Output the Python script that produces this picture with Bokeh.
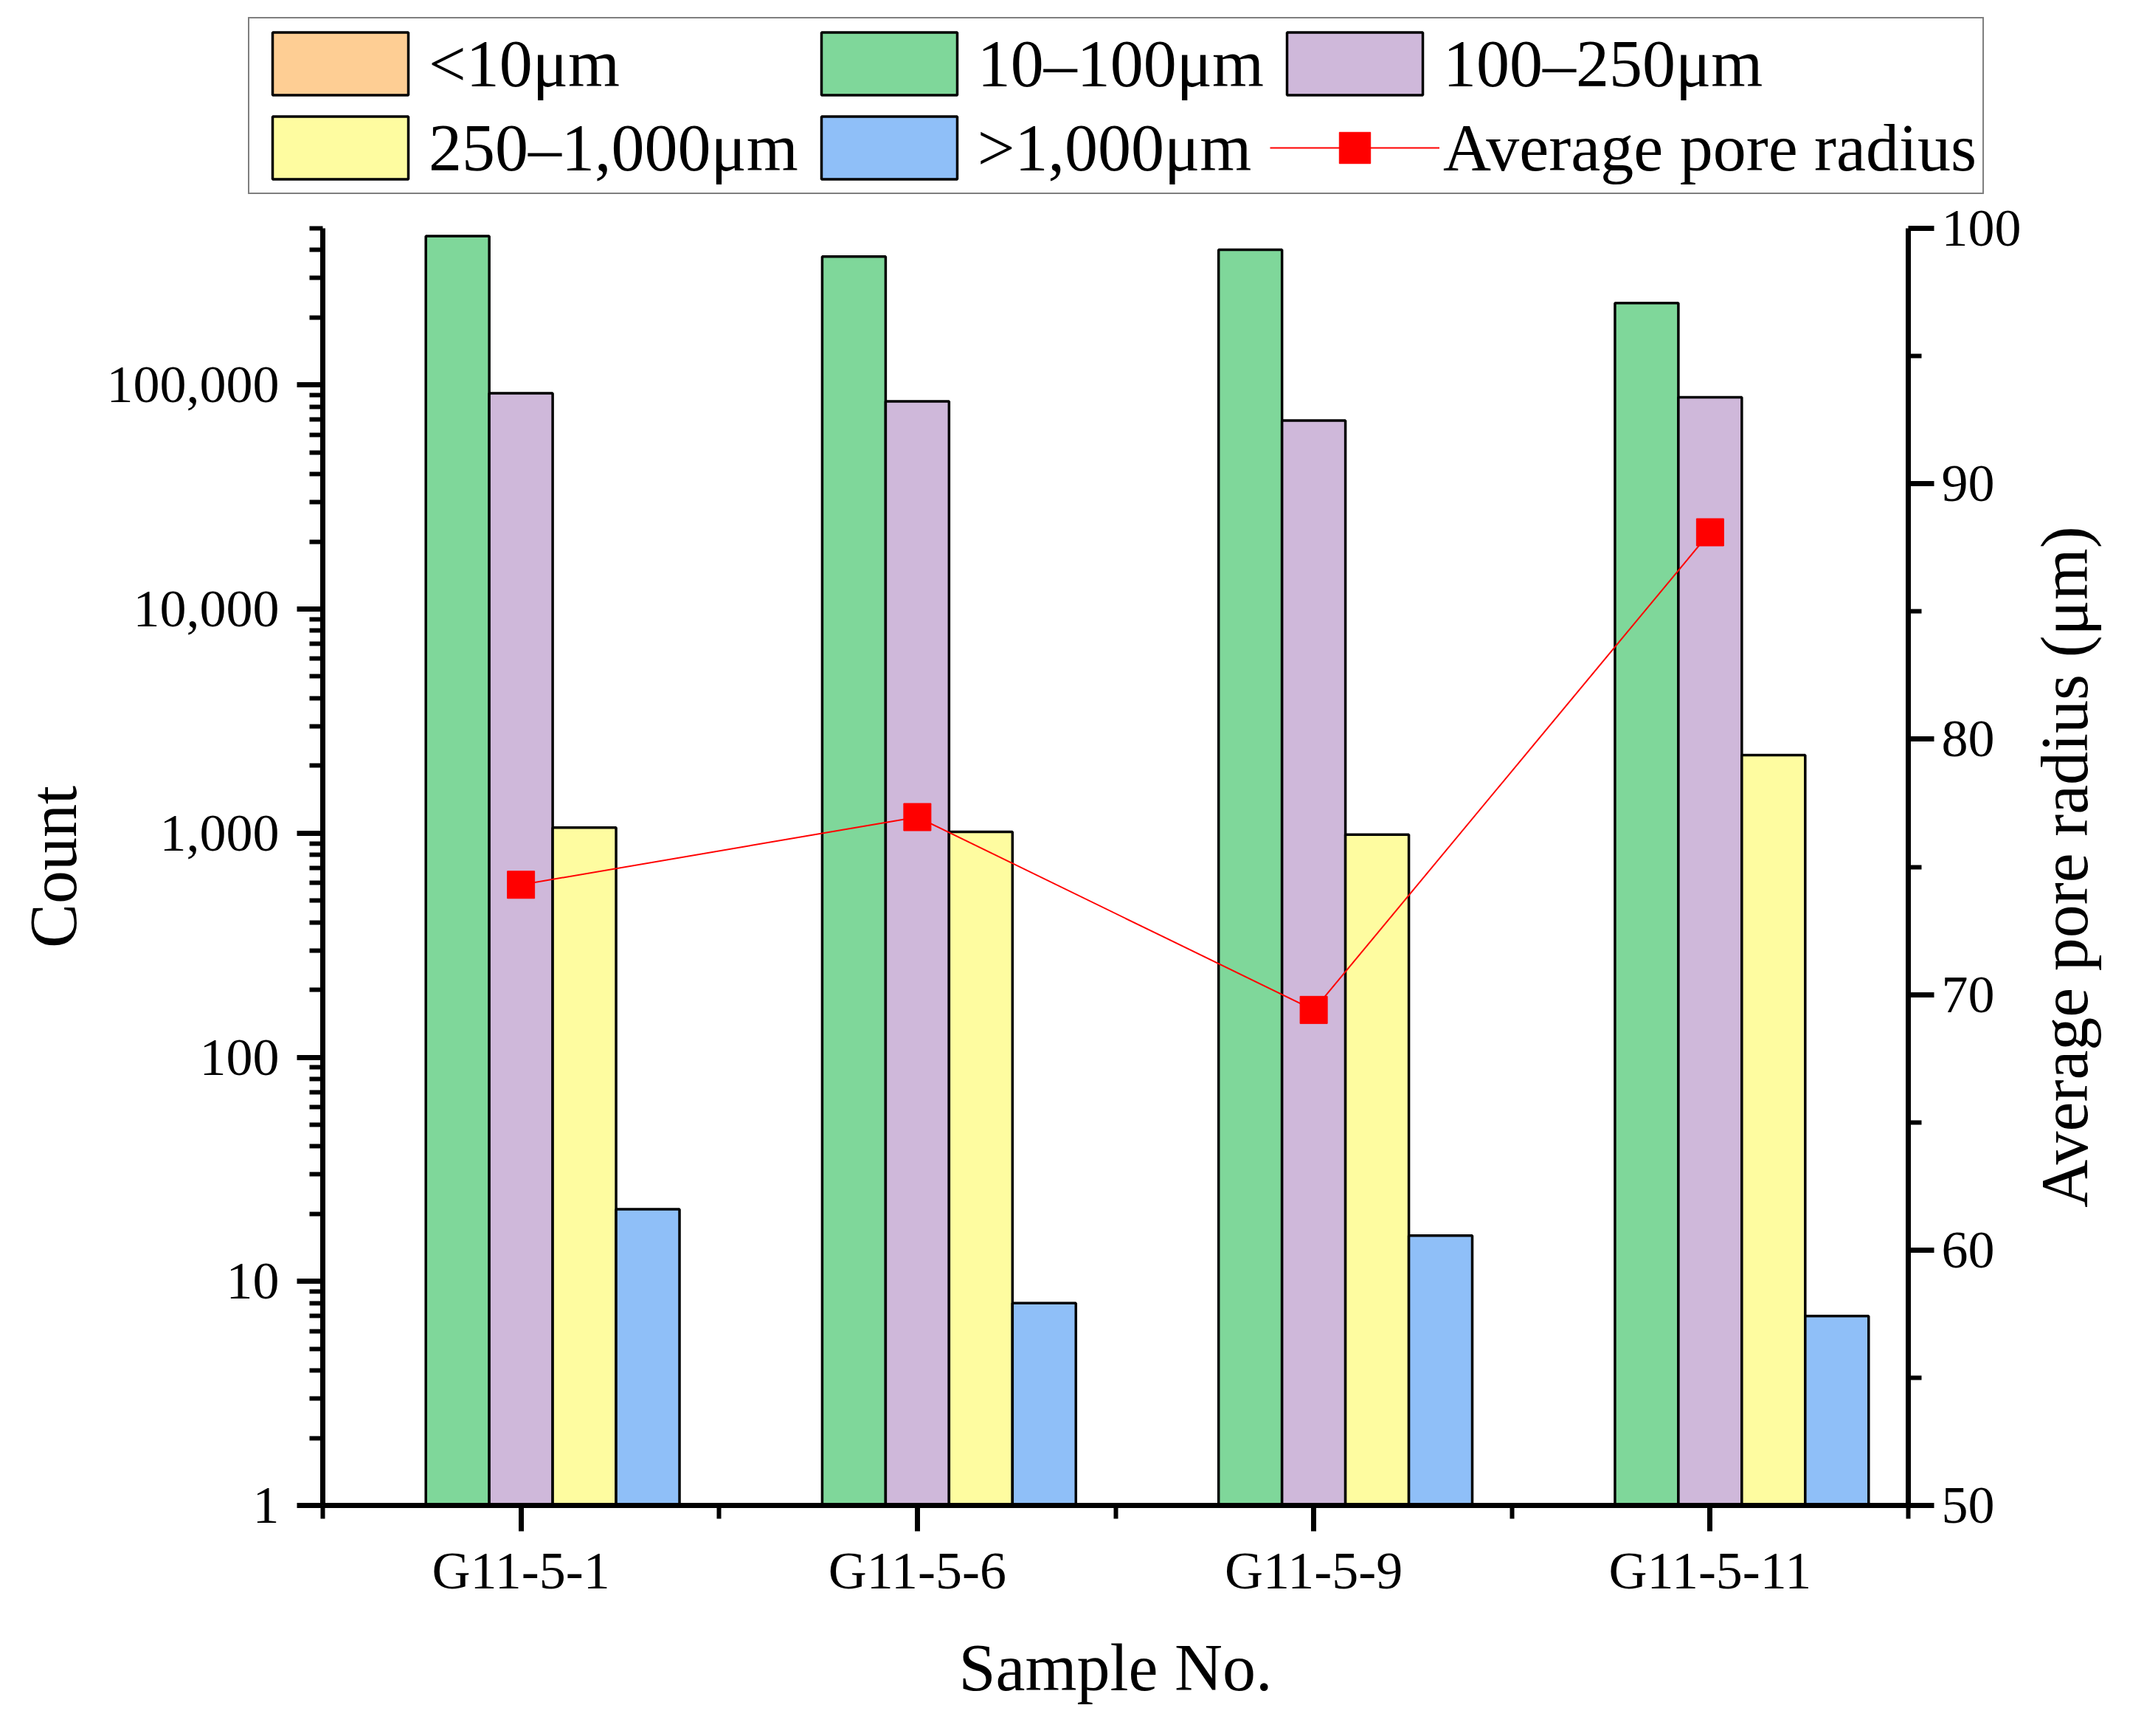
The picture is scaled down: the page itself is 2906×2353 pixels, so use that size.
import math

from bokeh.embed import file_html
from bokeh.layouts import column, row
from bokeh.models import (ColumnDataSource, FixedTicker, Label, Legend, LegendItem, LinearAxis,
                          LinearScale, NumeralTickFormatter, Range1d)
from bokeh.plotting import figure
from bokeh.resources import INLINE
from bokeh.transform import dodge

# data
samples = ["G11-5-1", "G11-5-6", "G11-5-9", "G11-5-11"]
sample_pos = [1, 2, 3, 4]
below_10 = [0, 0, 0, 0]
r10_100 = [462000, 374000, 401000, 232000]
r100_250 = [91900, 84500, 69400, 88100]
r250_1000 = [1058, 1014, 986, 2228]
above_1000 = [21, 8, 16, 7]
avg_radius = [74.3, 76.95, 69.4, 88.1]

series_names = ["<10μm", "10–100μm", "100–250μm", "250–1,000μm", ">1,000μm"]
series_cols = ["lt10", "r10_100", "r100_250", "r250_1000", "gt1000"]
colors = ["#FECE94", "#7FD79A", "#CFB8DA", "#FEFCA0", "#8FBFF8"]

FONT = "Liberation Serif"
LEGEND_H = 264
MAIN_W = 2750
TOTAL_W = 2890
TOTAL_H = 2337
FRAME_TOP = 309


def bare_figure(**kw):
    f = figure(output_backend="svg", toolbar_location=None,
               x_axis_location=None, y_axis_location=None, **kw)
    f.outline_line_color = None
    f.grid.visible = False
    return f


src = ColumnDataSource(dict(
    x=sample_pos, lt10=below_10, r10_100=r10_100, r100_250=r100_250,
    r250_1000=r250_1000, gt1000=above_1000, avg=avg_radius,
))

p = figure(
    width=MAIN_W, height=TOTAL_H - LEGEND_H,
    output_backend="svg", toolbar_location=None,
    x_range=Range1d(0.5, 4.5), y_range=Range1d(1, 500000), y_axis_type="log",
    min_border_left=437, min_border_right=MAIN_W - 2586,
    min_border_top=FRAME_TOP - LEGEND_H, min_border_bottom=297,
)
p.outline_line_color = None
p.xgrid.visible = False
p.ygrid.visible = False
p.extra_y_ranges = {"radius": Range1d(50, 100)}
p.extra_y_scales = {"radius": LinearScale()}

bar_width = 0.16
offsets = [-0.32, -0.16, 0.0, 0.16, 0.32]
for col, off, c in zip(series_cols, offsets, colors):
    p.vbar(x=dodge("x", off, range=p.x_range), top=col, bottom=1, width=bar_width,
           source=src, fill_color=c, line_color="black", line_width=3.5)

p.line(x="x", y="avg", source=src, y_range_name="radius", line_color="#FF0000", line_width=2)
p.scatter(x="x", y="avg", source=src, y_range_name="radius",
          marker="square", size=37, fill_color="#FF0000", line_color="#FF0000")


def style_axis(ax):
    ax.axis_line_width = 7
    ax.major_tick_line_width = 7
    ax.minor_tick_line_width = 6
    ax.axis_line_color = "black"
    ax.major_tick_line_color = "black"
    ax.minor_tick_line_color = "black"
    ax.major_label_text_font = FONT
    ax.major_label_text_font_size = "72px"
    ax.major_label_text_color = "black"
    ax.axis_label_text_font = FONT
    ax.axis_label_text_font_size = "90px"
    ax.axis_label_text_font_style = "normal"
    ax.axis_label_text_color = "black"


yax = p.yaxis[0]
style_axis(yax)
log_minor = [m * 10 ** d for d in range(6) for m in range(2, 10) if m * 10 ** d <= 500000]
yax.ticker = FixedTicker(ticks=[1, 10, 100, 1000, 10000, 100000], minor_ticks=log_minor)
yax.formatter = NumeralTickFormatter(format="0,0")
yax.major_tick_out = 35
yax.major_tick_in = 0
yax.minor_tick_out = 18
yax.minor_tick_in = 0
yax.major_label_standoff = 24
yax.axis_label = "Count"
yax.axis_label_standoff = 20

xax = p.xaxis[0]
style_axis(xax)
xax.ticker = FixedTicker(ticks=sample_pos, minor_ticks=[0.5, 1.5, 2.5, 3.5, 4.5])
xax.major_label_overrides = {k: s for k, s in zip(sample_pos, samples)}
xax.major_tick_out = 35
xax.major_tick_in = 0
xax.minor_tick_out = 18
xax.minor_tick_in = 0
xax.major_label_standoff = 13
xax.axis_label = "Sample No."
xax.axis_label_standoff = 39

rax = LinearAxis(y_range_name="radius")
style_axis(rax)
rax.ticker = FixedTicker(ticks=[50, 60, 70, 80, 90, 100], minor_ticks=[55, 65, 75, 85, 95])
rax.major_tick_in = 0
rax.major_tick_out = 35
rax.minor_tick_in = 0
rax.minor_tick_out = 18
rax.major_label_standoff = 10
p.add_layout(rax, "right")

# right axis title, read bottom-to-top, in a narrow strip next to the plot
lab_fig = bare_figure(width=TOTAL_W - MAIN_W, height=TOTAL_H - LEGEND_H,
                      x_range=Range1d(0, 1), y_range=p.extra_y_ranges["radius"],
                      min_border_left=0, min_border_right=0,
                      min_border_top=FRAME_TOP - LEGEND_H, min_border_bottom=297)
lab_fig.add_layout(Label(
    x=0.343, y=75, text="Average pore radius (μm)", angle=math.pi / 2,
    text_align="center", text_baseline="middle",
    text_font=FONT, text_font_size="90px", text_color="black",
))

# legend strip above the plot; swatches reuse the plot's glyph styles (no visible data)
leg_fig = bare_figure(width=TOTAL_W, height=LEGEND_H,
                      x_range=Range1d(0, 1), y_range=Range1d(0, 1),
                      min_border_left=0, min_border_right=0, min_border_top=0, min_border_bottom=0)
nan = float("nan")
swatch_src = ColumnDataSource(dict(x=[nan], top=[nan], y=[nan]))
swatches = [leg_fig.vbar(x="x", top="top", width=0.1, source=swatch_src, fill_color=c,
                         line_color="black", line_width=3.5) for c in colors]
sw_line = leg_fig.line(x="x", y="y", source=swatch_src, line_color="#FF0000", line_width=2)
sw_mark = leg_fig.scatter(x="x", y="y", source=swatch_src, marker="square", size=37,
                          fill_color="#FF0000", line_color="#FF0000")

items = [LegendItem(label=n, renderers=[r]) for n, r in zip(series_names, swatches)]
items.append(LegendItem(label="Average pore radius", renderers=[sw_line, sw_mark]))
legend = Legend(
    items=items, location=(336, 1), orientation="horizontal", ncols=3,
    glyph_width=230, glyph_height=106, label_standoff=5, spacing=8, padding=8,
    margin=0, border_line_color="black", border_line_width=2,
    label_text_font=FONT, label_text_font_size="90px", label_text_color="black",
    background_fill_color="white", background_fill_alpha=1,
)
leg_fig.add_layout(legend)

layout = column(leg_fig, row(p, lab_fig))
open("out.html", "w").write(file_html(layout, INLINE))
